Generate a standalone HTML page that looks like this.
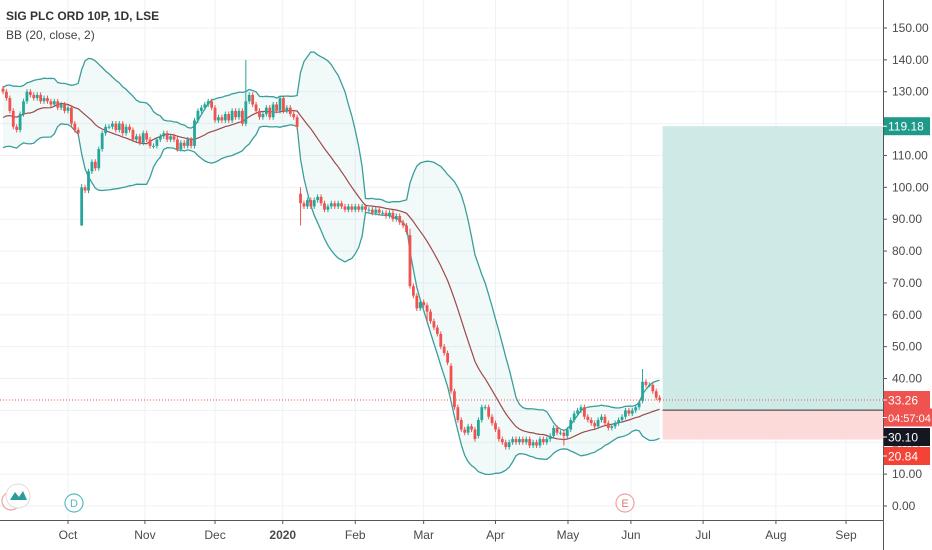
<!DOCTYPE html>
<html><head><meta charset="utf-8"><style>
html,body{margin:0;padding:0;background:#fff;}
svg{display:block;font-family:"Liberation Sans",sans-serif;}
</style></head><body>
<svg id="chart" width="932" height="550" viewBox="0 0 932 550" xmlns="http://www.w3.org/2000/svg">
<rect x="0" y="0" width="932" height="550" fill="#fff"/>
<g id="grid"></g>
<g id="position"></g>
<g id="bands"></g>
<g id="candles"></g>
<g id="axes"></g>
<g id="labels"></g>
<text x="6" y="20" font-size="12" font-weight="bold" fill="#333">SIG PLC ORD 10P, 1D, LSE</text>
<text x="6" y="39" font-size="12" fill="#444">BB (20, close, 2)</text>
<circle cx="11" cy="501" r="9" fill="none" stroke="#f4a0a0" stroke-width="1.2"/>
<circle cx="18" cy="496" r="12" fill="#fff" stroke="#ddd" stroke-width="1"/>
<path d="M10 500 L15 492 L19 497 L23 491 L27 500 Z" fill="#2a9d9a"/>
<circle cx="74" cy="503" r="9" fill="#fff" stroke="#5bb8c0" stroke-width="1.2"/>
<text x="74" y="507" font-size="11" text-anchor="middle" fill="#5bb8c0">D</text>
<circle cx="625" cy="503" r="9" fill="#fff" stroke="#f4a0a0" stroke-width="1.2"/>
<text x="625" y="507" font-size="11" text-anchor="middle" fill="#e57373">E</text>
</svg>
<script>
const warmup=[118,122,126,120,115,117,124,127,121,116,119,123,128,125,118,114,120,126,129];
const closes=[130,128,124,119,118,123,127,130,129,128,129,127,128,127,126,127,125,126,124,125,
120,118,117,100,99,105,108,106,112,117,119,119,120,118,120,117,119,118,115,116,
114,117,115,113,113,115,116,117,115,116,115,112,114,113,115,113,121,124,125,126,
127,125,121,122,121,123,121,124,122,124,120,127,129,126,124,122,123,125,122,126,
124,128,124,125,123,122,119,95,94,96,94,96,97,95,93,94,95,94,95,94,
93,94,93,94,93,94,93,93,92,93,92,92,91,92,90,91,89,88,86,69,
66,62,64,63,61,58,56,54,50,48,45,36,31,27,24,23,25,24,21,27,
31,31,28,26,24,21,20,18.5,20,21,20,21,20,21,19,20,19,21,20,21,
22,24.5,23,23,22,24,27,29,30,31,28,27,26,25,27,28,26,24.5,25,26,
27,28,30,29,30,31,32.5,39,38,38,36,34,33.26];
const openOverrides=[[23,88],[87,98],[119,85],[131,44],[139,22],[187,33]];
const highOverrides=[[71,140],[187,43],[119,87],[23,101],[87,100]];
const lowOverrides=[[23,88],[87,88],[124,58],[164,19]];
const yTicks=[0,10,20,30,40,50,60,70,80,90,100,110,120,130,140,150];
const xTickLabels=["Oct","Nov","Dec","2020","Feb","Mar","Apr","May","Jun","Jul","Aug","Sep"];
const xTickIdx=[19,41.5,62,81.8,103,123,144,165.2,183.6,204.7,226,246.5];
const lastPrice=33.26, entry=30.10, target=119.18, stop=20.84;

const NS="http://www.w3.org/2000/svg";
const plotR=883, axisY=520;
function y(v){return 506-v*(478/150);}
function x(i){return 3+i*3.42;}
function mk(tag,attrs,parent){const e=document.createElementNS(NS,tag);for(const k in attrs)e.setAttribute(k,attrs[k]);parent.appendChild(e);return e;}
const g=id=>document.getElementById(id);

yTicks.forEach(v=>{const l=mk('line',{x1:0,x2:plotR,y1:y(v),y2:y(v),stroke:'#eef1f6','stroke-width':1},g('grid'));

});
xTickIdx.forEach(i=>{const l=mk('line',{x1:x(i),x2:x(i),y1:0,y2:axisY,stroke:'#eef1f6','stroke-width':1},g('grid'));

});

const n=closes.length, px0=x(n-1)+3;
let r=mk('rect',{x:px0,y:y(target),width:plotR-px0,height:y(entry)-y(target),fill:'#cdeae6'},g('position'));


r=mk('rect',{x:px0,y:y(entry),width:plotR-px0,height:y(stop)-y(entry),fill:'#fcdada'},g('position'));


r=mk('line',{x1:px0,x2:plotR,y1:y(entry),y2:y(entry),stroke:'#333','stroke-width':1},g('position'));



const all=warmup.concat(closes);const up=[],mid=[],lo=[];
for(let i=0;i<n;i++){const w=all.slice(i,i+20);const m=w.reduce((a,b)=>a+b,0)/20;
const sd=Math.sqrt(w.reduce((a,b)=>a+(b-m)*(b-m),0)/20);mid.push(m);up.push(m+2*sd);lo.push(m-2*sd);}
const pts=a=>a.map((v,i)=>x(i).toFixed(1)+','+y(v).toFixed(1));
let e=mk('polygon',{points:pts(up).concat(pts(lo).reverse()).join(' '),fill:'#26a69a','fill-opacity':0.06},g('bands'));


e=mk('polyline',{points:pts(up).join(' '),fill:'none',stroke:'#3a9e9b','stroke-width':1.3},g('bands'));


e=mk('polyline',{points:pts(lo).join(' '),fill:'none',stroke:'#3a9e9b','stroke-width':1.3},g('bands'));


e=mk('polyline',{points:pts(mid).join(' '),fill:'none',stroke:'#a0484a','stroke-width':1.2},g('bands'));



const oMap=new Map(openOverrides),hMap=new Map(highOverrides),lMap=new Map(lowOverrides);
for(let i=0;i<n;i++){
 const c=closes[i];const o=oMap.has(i)?oMap.get(i):(i?closes[i-1]:131);
 const hi=hMap.has(i)?hMap.get(i):Math.max(o,c)+0.8;const low=lMap.has(i)?lMap.get(i):Math.min(o,c)-0.8;
 const col=c>=o?'#26a69a':'#ef5350';const cx=x(i);
 const gg=mk('g',{},g('candles'));
 
 
 mk('line',{x1:cx,x2:cx,y1:y(hi),y2:y(low),stroke:col,'stroke-width':1},gg);
 const t=Math.min(y(o),y(c));mk('rect',{x:cx-1.4,y:t,width:2.8,height:Math.max(1,Math.abs(y(o)-y(c))),fill:col},gg);
}

e=mk('line',{x1:0,x2:plotR,y1:y(lastPrice),y2:y(lastPrice),stroke:'#ef5350','stroke-width':1,'stroke-dasharray':'1,2'},g('axes'));



e=mk('line',{x1:plotR+0.5,x2:plotR+0.5,y1:0,y2:550,stroke:'#555','stroke-width':1},g('axes'));


e=mk('line',{x1:0,x2:plotR,y1:axisY+0.5,y2:axisY+0.5,stroke:'#555','stroke-width':1},g('axes'));


yTicks.forEach(v=>{mk('line',{x1:plotR,x2:plotR+4,y1:y(v),y2:y(v),stroke:'#555'},g('axes'));
 const t=mk('text',{x:892,y:y(v)+4,'font-size':12,fill:'#4a4a4a'},g('axes'));t.textContent=v.toFixed(2);
 
 });
xTickIdx.forEach((i,k)=>{mk('line',{x1:x(i),x2:x(i),y1:axisY,y2:axisY+4,stroke:'#555'},g('axes'));
 const t=mk('text',{x:x(i),y:539,'font-size':12,'text-anchor':'middle',fill:'#4a4a4a','font-weight':xTickLabels[k]==='2020'?'bold':'normal'},g('axes'));
 t.textContent=xTickLabels[k];
 
 });

function lab(txt,cy,bg,name){const gg=mk('g',{},g('labels'));
 
 
 mk('rect',{x:plotR+1,y:cy-9,width:txt.length>6?48:46,height:18,fill:bg},gg);
 mk('line',{x1:plotR,x2:plotR+4,y1:cy,y2:cy,stroke:'#fff'},gg);
 const t=mk('text',{x:888,y:cy+4.5,'font-size':txt.length>6?11:12,fill:'#fff'},gg);t.textContent=txt;}
lab(target.toFixed(2),y(target),'#1f9a8a','target-price-label');
lab(lastPrice.toFixed(2),y(lastPrice),'#ef5350','last-price-label');
lab('04:57:04',y(lastPrice)+17.5,'#ef5350','countdown-label');
lab(entry.toFixed(2),y(lastPrice)+37,'#131722','entry-price-label');
lab(stop.toFixed(2),y(lastPrice)+56,'#f44336','stop-price-label');
</script>
</body></html>
